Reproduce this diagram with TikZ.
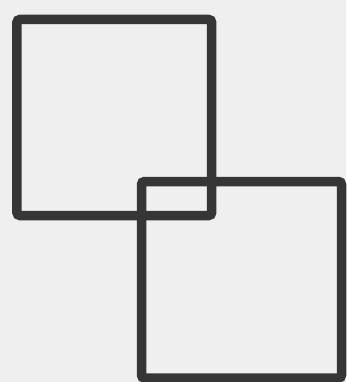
\documentclass[tikz,border=0pt]{standalone}
\usepackage{xcolor}
\definecolor{paper}{HTML}{EFEFEF}
\definecolor{ink}{HTML}{363636}
\usetikzlibrary{positioning}

\begin{document}
\begin{tikzpicture}[x=1pt, y=-1pt,
    sqframe/.style={rectangle, draw=ink, line width=9.5pt, rounded corners=3pt, inner sep=0pt}]
    % page
    \fill [paper] (0,0) rectangle (346,382);
    \useasboundingbox (0,0) rectangle (346,382);

    \node [sqframe, minimum width=194.7pt, minimum height=196pt] (upper) at (114.3,117.5) {};
    \node [sqframe, minimum width=200pt, minimum height=196.5pt] (lower) at (241.5,279.8) {};
\end{tikzpicture}
\end{document}
